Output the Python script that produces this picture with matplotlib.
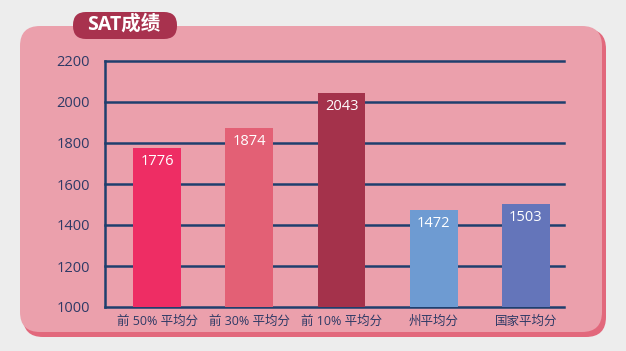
import matplotlib.pyplot as plt
from matplotlib.patches import FancyBboxPatch

plt.rcParams['font.family'] = ['Open Sans', 'Noto Sans CJK SC', 'DejaVu Sans']

# data
categories = ['前 50% 平均分', '前 30% 平均分', '前 10% 平均分', '州平均分', '国家平均分']
scores = [1776, 1874, 2043, 1472, 1503]
colors = ['#EE2D64', '#E36075', '#A4324B', '#6E9BD2', '#6475BA']
yticks = [1000, 1200, 1400, 1600, 1800, 2000, 2200]

navy = '#1F3F6E'
text_col = '#2E3A66'

fig = plt.figure(figsize=(6.26, 3.51), dpi=100)
fig.patch.set_facecolor('#EDEDED')

# background panel, drawn in pixel coords
bg = fig.add_axes([0, 0, 1, 1])
bg.set_xlim(0, 626)
bg.set_ylim(351, 0)
bg.axis('off')
shadow = FancyBboxPatch((23 + 20, 29 + 20), 583 - 40, 308 - 40,
                        boxstyle='round,pad=20', fc='#E2687C', ec='none')
panel = FancyBboxPatch((20 + 20, 26 + 20), 582 - 40, 306 - 40,
                       boxstyle='round,pad=20', fc='#EBA0AC', ec='none')
bg.add_patch(shadow)
bg.add_patch(panel)
badge = FancyBboxPatch((73 + 13, 12 + 13), 104 - 26, 27 - 26,
                       boxstyle='round,pad=13', fc='#A8324E', ec='none')
bg.add_patch(badge)
bg.text(124, 25, 'SAT成绩', color='white', fontsize=14, fontweight='bold',
        ha='center', va='center')

# chart
ax = fig.add_axes([105 / 626, 1 - 307 / 351, 459 / 626, 246 / 351])
ax.set_facecolor('none')
x = list(range(len(categories)))
ax.bar(x, scores, width=0.52, color=colors, zorder=3)
for xi, v in zip(x, scores):
    ax.annotate(str(v), (xi, v), xytext=(0, -4.5), textcoords='offset points',
                ha='center', va='top', color='white', fontsize=10.5, zorder=4)

ax.set_xlim(-0.565, 4.413)
ax.set_ylim(1000, 2200)
ax.set_yticks(yticks)
ax.set_xticks(x)
ax.set_xticklabels(categories)
for y in yticks:
    ax.axhline(y, color=navy, lw=1.8, zorder=2, clip_on=False)
for s in ['top', 'right', 'bottom']:
    ax.spines[s].set_visible(False)
ax.spines['left'].set_color(navy)
ax.spines['left'].set_linewidth(1.8)
ax.tick_params(axis='both', length=0, colors=text_col)
ax.tick_params(axis='y', pad=11, labelsize=10.5)
ax.tick_params(axis='x', pad=6, labelsize=9)

fig.savefig('out.png', dpi=100, facecolor=fig.get_facecolor())
